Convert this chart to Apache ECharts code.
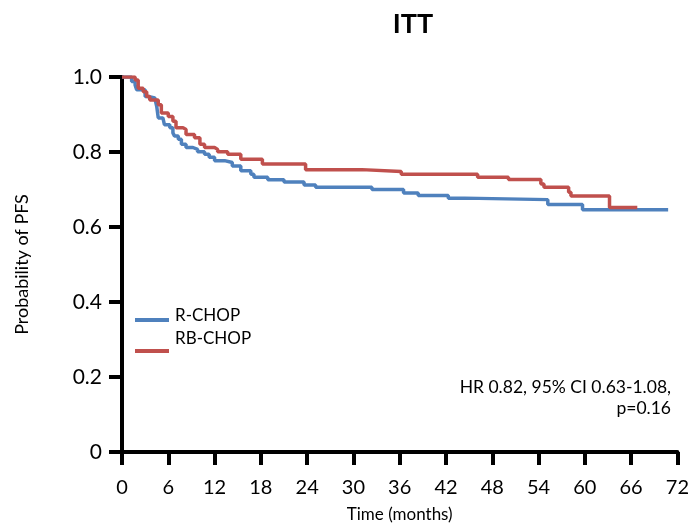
<!DOCTYPE html>
<html>
<head>
<meta charset="utf-8">
<script src="https://cdn.jsdelivr.net/npm/echarts@6/dist/echarts.min.js"></script>
<style>
  html, body { margin: 0; padding: 0; background: #fff; }
  #chart { width: 692px; height: 528px; }
</style>
</head>
<body>
<div id="chart"></div>
<script>
// Kaplan-Meier PFS, ITT population. [month, survival after the step]
const seriesNames = ["R-CHOP", "RB-CHOP"];
const rchop = [[0,1.0],[1.25,0.988],[1.7,0.979],[1.9,0.966],[3.0,0.948],[3.4,0.944],[4.25,0.939],[4.5,0.922],[4.7,0.891],[5.3,0.887],[5.5,0.873],[6.2,0.865],[6.6,0.851],[6.8,0.843],[7.3,0.834],[7.7,0.821],[8.3,0.812],[9.2,0.807],[9.8,0.801],[10.7,0.794],[11.3,0.786],[12.0,0.777],[13.3,0.772],[14.3,0.763],[15.4,0.750],[16.7,0.741],[17.1,0.733],[18.9,0.726],[21.0,0.720],[23.6,0.712],[25.1,0.706],[32.4,0.700],[36.5,0.691],[38.4,0.684],[42.3,0.677],[44.4,0.673],[55.2,0.660],[59.7,0.646],[70.8,0.646]];
const rbchop = [[0,1.0],[1.7,0.992],[2.1,0.970],[2.75,0.961],[3.2,0.948],[3.6,0.939],[4.7,0.926],[5.1,0.904],[6.0,0.895],[6.6,0.882],[7.0,0.865],[7.9,0.860],[8.3,0.847],[9.4,0.838],[10.1,0.821],[10.7,0.812],[12.0,0.807],[12.4,0.801],[13.7,0.794],[15.4,0.781],[18.2,0.768],[23.8,0.753],[31.1,0.748],[36.2,0.741],[46.1,0.733],[50.1,0.727],[54.3,0.715],[54.7,0.706],[57.9,0.693],[58.2,0.683],[63.2,0.652],[66.8,0.652]];
const colors = ["#4f81bd", "#c0504d"];
const statText = "HR 0.82, 95% CI 0.63-1.08,\np=0.16";

const font = "Lato, 'Open Sans', sans-serif";
const chart = echarts.init(document.getElementById("chart"));
chart.setOption({
  animation: false,
  textStyle: { fontFamily: font },
  title: { text: "ITT", left: 408, top: 6, textAlign: "center",
    textStyle: { fontSize: 27, fontWeight: "bold", color: "#000", fontFamily: font } },
  grid: { left: 122, right: 11, top: 77, bottom: 72 },
  xAxis: {
    type: "value", min: 0, max: 72, interval: 6,
    name: "Time (months)", nameLocation: "middle", nameGap: 54,
    nameTextStyle: { fontSize: 17, color: "#000" },
    axisLine: { lineStyle: { color: "#000", width: 4 } },
    axisTick: { length: 13, lineStyle: { color: "#000", width: 4 } },
    axisLabel: { fontSize: 20, color: "#000", margin: 26 },
    splitLine: { show: false }
  },
  yAxis: {
    type: "value", min: 0, max: 1, interval: 0.2,
    name: "Probability of PFS", nameLocation: "middle", nameGap: 91,
    nameTextStyle: { fontSize: 18, color: "#000" },
    axisLine: { show: true, lineStyle: { color: "#000", width: 4 } },
    axisTick: { show: true, length: 13, lineStyle: { color: "#000", width: 4 } },
    axisLabel: { fontSize: 21, color: "#000", margin: 20,
      formatter: v => v === 0 ? "0" : v.toFixed(1) },
    splitLine: { show: false }
  },
  series: [
    { name: seriesNames[0], type: "line", step: "end", data: rchop, showSymbol: false,
      lineStyle: { color: colors[0], width: 3.5 }, itemStyle: { color: colors[0] } },
    { name: seriesNames[1], type: "line", step: "end", data: rbchop, showSymbol: false,
      lineStyle: { color: colors[1], width: 3.5 }, itemStyle: { color: colors[1] } }
  ],
  graphic: [
    { type: "line", shape: { x1: 135, y1: 320, x2: 169, y2: 320 }, style: { stroke: colors[0], lineWidth: 4 } },
    { type: "text", x: 175, y: 316, style: { text: seriesNames[0], fontSize: 17, fill: "#000", verticalAlign: "middle", fontFamily: font } },
    { type: "line", shape: { x1: 135, y1: 351, x2: 169, y2: 351 }, style: { stroke: colors[1], lineWidth: 4 } },
    { type: "text", x: 175, y: 339, style: { text: seriesNames[1], fontSize: 17, fill: "#000", verticalAlign: "middle", fontFamily: font } },
    { type: "text", x: 671, y: 377, style: { text: statText, fontSize: 17.5, fill: "#000", align: "right", lineHeight: 21, fontFamily: font } }
  ]
});
</script>
</body>
</html>
